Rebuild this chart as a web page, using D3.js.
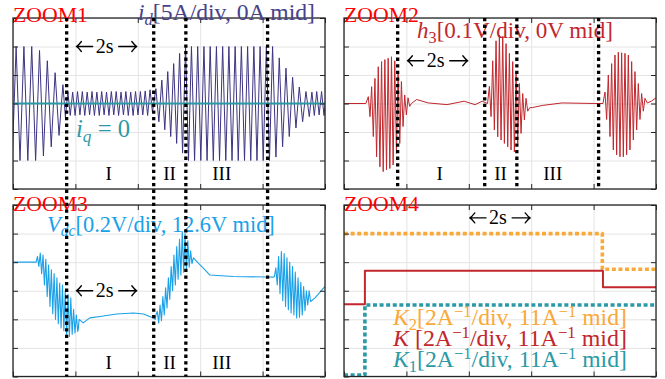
<!DOCTYPE html>
<html>
<head>
<meta charset="utf-8">
<script src="https://d3js.org/d3.v7.min.js"></script>
<style>
  html, body { margin: 0; padding: 0; background: #fff; }
  svg { display: block; }
  svg text { font-family: 'Liberation Serif', 'DejaVu Serif', serif; }
</style>
</head>
<body>
<svg id="chart" width="665" height="379"></svg>
<script>
// ── data ──────────────────────────────────────────────
const tDomain = [0, 10];               // s, 2 s/div
const tGrid = [0, 2, 4, 6, 8, 10];
const dividerT = [1.72, 4.51, 5.54, 8.16];
const regionNames = ['I', 'II', 'III'];
const regionT = [3.07, 5.02, 6.69];

// ZOOM1: i_d [5A/div, 0A mid], sampled at the extrema of each stretch
const idDomain = [-15, 15];
const idSegStart = [-0.025, 1.68, 4.58, 5.72, 8.32, 9.58];
const idSegStep = [0.125, 0.0775, 0.095, 0.1, 0.107, 0.0775];
const idEarly = [-10, 10, -10, 10, -10, 10, -10, 9.3, -9.2, 7.5, -7.6, 5.4, -5.6, 3.3];
const idLow = [-2.4, 2.1, -2.1, 2.0, -2.1, 2.1, -2.0, 2.1, -2.1, 2.0, -2.0, 2.1, -2.1, 2.0, -2.1, 2.1, -2.0, 2.0,
  -2.1, 2.1, -2.0, 2.1, -2.1, 2.0, -2.0, 2.1, -2.1, 2.0, -2.1, 2.1, -2.0, 2.1, -2.0, 2.2, -2.1, 2.4, -1.5];
const idRise = [2.6, -3.2, 4.1, -4.6, 5.6, -5.8, 7.0, -7.0, 8.8, -8.7, 10, -10];
const idHigh = [10, -10, 10, -10, 10, -10, 10, -10, 10, -10, 10, -10, 10, -10, 10, -10, 10, -10, 10, -10, 10, -10, 10, -10, 10, -10];
const idFall = [10, -9.4, 8.0, -7.6, 6.2, -5.8, 4.6, -4.3, 2.9, -3.2, 2.1, -2.3];
const idTail = [2.0, -2.1, 2.1, -2.0, 2.1, -2.1, 2.0];
const iqT = [0, 10];
const iqV = [0, 0];

// ZOOM2: h3 [0.1V/div, 0V mid]
const h3Domain = [-0.3, 0.3];
const h3QuietT = [0, 0.7, 2.16, 2.33, 2.7, 3.3, 3.85, 4.2, 4.43, 4.6, 5.95, 6.05, 6.35, 6.99, 8.04, 8.3, 9.72, 9.85, 10];
const h3QuietV = [0, 0, 0, 0.014, 0.002, -0.004, 0.008, -0.004, 0.008, 0, -0.015, -0.014, -0.007, 0.002, 0, 0, 0.002, 0.008, 0.02];
const h3BurstStart = [0.78, 4.66, 8.365];
const h3BurstStep = [0.053, 0.0534, 0.0534];
const h3Burst1 = [0.024, -0.046, 0.059, -0.116, 0.088, -0.187, 0.129, -0.222, 0.147, -0.239, 0.154, -0.233, 0.159,
  -0.228, 0.164, -0.216, 0.15, -0.175, 0.112, -0.14, 0.077, -0.081, 0.03, -0.04, 0.02, -0.01];
const h3Burst2 = [0.06, -0.046, 0.15, -0.093, 0.22, -0.117, 0.24, -0.128, 0.235, -0.14, 0.21, -0.152, 0.176, -0.163,
  0.147, -0.17, 0.112, -0.14, 0.07, -0.105, 0.035, -0.058, 0.018, -0.027];
const h3Burst3 = [0.04, -0.056, 0.1, -0.116, 0.14, -0.163, 0.17, -0.18, 0.18, -0.187, 0.178, -0.187, 0.176, -0.18,
  0.17, -0.163, 0.147, -0.128, 0.112, -0.093, 0.07, -0.056, 0.035, -0.027, 0.018];

// ZOOM3: Vdc [0.2V/div, 12.6V mid]
const vdcDomain = [12.0, 13.2];
const vdcQuietT = [0, 0.7, 2.09, 2.25, 2.46, 2.79, 3.32, 3.86, 4.18, 4.5, 4.56, 5.94, 6.1, 6.31, 7.06, 8.13, 8.35, 9.68, 10];
const vdcQuietV = [12.8, 12.8, 12.328, 12.375, 12.41, 12.42, 12.437, 12.444, 12.437, 12.41, 12.4,
  12.793, 12.758, 12.71, 12.7, 12.696, 12.695, 12.55, 12.63];
const vdcBurstStart = [0.74, 4.58, 8.38];
const vdcBurstStep = [0.0445, 0.0445, 0.0445];
const vdcBurst1 = [12.8, 12.84, 12.77, 12.863, 12.72, 12.85, 12.64, 12.82, 12.56, 12.78, 12.49, 12.746, 12.44,
  12.72, 12.4, 12.69, 12.37, 12.654, 12.34, 12.64, 12.32, 12.6, 12.29, 12.575, 12.28, 12.55, 12.295, 12.47,
  12.305, 12.43, 12.316, 12.4];
const vdcBurst2 = [12.43, 12.456, 12.375, 12.5, 12.39, 12.56, 12.43, 12.62, 12.48, 12.69, 12.54, 12.77, 12.6,
  12.85, 12.64, 12.91, 12.68, 12.96, 12.71, 13.014, 12.73, 13.0, 12.746, 12.95, 12.765, 12.88, 12.79, 12.83];
const vdcBurst3 = [12.7, 12.76, 12.64, 12.84, 12.58, 12.874, 12.53, 12.86, 12.49, 12.83, 12.467, 12.8, 12.444,
  12.77, 12.43, 12.73, 12.41, 12.69, 12.415, 12.66, 12.43, 12.63, 12.46, 12.6, 12.5, 12.6, 12.525];

// ZOOM4: K, K1, K2 [2A^-1/div, 11A^-1 mid]
const kDomain = [5, 17];
const kT = [0, 0.67, 8.3, 10];
const kV = [10.05, 12.4, 11.25, 11.25];
const k1T = [0, 0.67, 10];
const k1V = [5.1, 10, 10];
const k2T = [0, 8.28, 10];
const k2V = [15, 12.5, 12.5];

// ── drawing ───────────────────────────────────────────
const C = {
  purple: '#3d3482', teal: '#2b9aa6', red: '#c1272d', blue: '#1ba1e8',
  orange: '#f9a93a', grid: '#e4e4e4', box: '#262626', zoom: '#ff0000'
};
const svg = d3.select('#chart');
const layerPanels = svg.append('g');
const layerText = svg.append('g');
const layerDiv = svg.append('g');

const seg = (t0, dt, vals) => vals.map((v, i) => [t0 + i * dt, v]);
const zip = (ts, vs) => ts.map((t, i) => [t, vs[i]]);

let clipN = 0;
function makePanel(x0, y0, w, h, domain, yStep) {
  const x = d3.scaleLinear().domain(tDomain).range([x0, x0 + w]);
  const y = d3.scaleLinear().domain(domain).range([y0 + h, y0]);
  const yTicks = d3.range(domain[0], domain[1] + yStep / 2, yStep);
  const g = layerPanels.append('g');

  // grid
  g.append('g').attr('transform', `translate(0,${y0 + h})`)
    .call(d3.axisBottom(x).tickValues(tGrid).tickSize(-h).tickFormat(''))
    .call(s => s.select('.domain').remove())
    .call(s => s.selectAll('line').attr('stroke', C.grid));
  g.append('g').attr('transform', `translate(${x0},0)`)
    .call(d3.axisLeft(y).tickValues(yTicks).tickSize(-w).tickFormat(''))
    .call(s => s.select('.domain').remove())
    .call(s => s.selectAll('line').attr('stroke', C.grid));

  const id = 'clip' + (++clipN);
  svg.append('clipPath').attr('id', id).append('rect')
    .attr('x', x0).attr('y', y0).attr('width', w).attr('height', h);
  const plot = g.append('g').attr('clip-path', `url(#${id})`);
  return { g, plot, x, y, x0, y0, w, h, yTicks };
}

function finishPanel(p) {
  const tk = 5;
  const axes = [
    [d3.axisLeft(p.y).tickValues(p.yTicks), `translate(${p.x0},0)`],
    [d3.axisRight(p.y).tickValues(p.yTicks), `translate(${p.x0 + p.w},0)`],
    [d3.axisTop(p.x).tickValues(tGrid), `translate(0,${p.y0})`],
    [d3.axisBottom(p.x).tickValues(tGrid), `translate(0,${p.y0 + p.h})`],
  ];
  for (const [ax, tr] of axes) {
    p.g.append('g').attr('transform', tr)
      .call(ax.tickSize(-tk).tickFormat(''))
      .call(s => s.select('.domain').remove())
      .call(s => s.selectAll('line').attr('stroke', C.box).attr('stroke-width', 1));
  }
  p.g.append('rect')
    .attr('x', p.x0).attr('y', p.y0).attr('width', p.w).attr('height', p.h)
    .attr('fill', 'none').attr('stroke', C.box).attr('stroke-width', 1.3);
}

function drawLine(p, pts, color, width, dash, curve) {
  const line = d3.line().x(d => p.x(d[0])).y(d => p.y(d[1]));
  if (curve) line.curve(curve);
  return p.plot.append('path').datum(pts)
    .attr('d', line)
    .attr('fill', 'none')
    .attr('stroke', color)
    .attr('stroke-width', width)
    .attr('stroke-dasharray', dash || null)
    .attr('stroke-linejoin', 'round');
}

// rich text: parts = [{t, i, sub, sup}], optionally fitted to a width
function label(parts, x, y, color, size, width, anchor) {
  const t = layerText.append('text')
    .attr('x', x).attr('y', y)
    .attr('fill', color)
    .style('font-family', "'Liberation Serif', 'DejaVu Serif', serif")
    .attr('font-size', size)
    .attr('text-anchor', anchor || 'start');
  let cur = 0;
  for (const p of parts) {
    const scale = (p.sub || p.sup) ? 0.7 : 1;
    const target = p.sub ? 0.2 : p.sup ? -0.34 : 0;
    const s = t.append('tspan').text(p.t);
    if (scale !== 1) s.attr('font-size', '0.7em');
    if (target !== cur) s.attr('dy', ((target - cur) / scale).toFixed(3) + 'em');
    if (p.i) s.attr('font-style', 'italic');
    cur = target;
  }
  if (width) {
    const w0 = t.node().getComputedTextLength();
    if (w0 > 0) t.attr('font-size', size * width / w0);
  }
  return t;
}

// "←2s→" spanning one division, arrows drawn as paths
function arrow2s(p, tA, tB, yc) {
  const xa = p.x(tA), xb = p.x(tB), xm = (xa + xb) / 2;
  const txt = label([{ t: '2s' }], xm - 2, yc + 6.5, '#000', 20, null, 'middle');
  const bb = txt.node().getBBox();
  const g = layerText.append('g').attr('fill', 'none').attr('stroke', '#000')
    .attr('stroke-width', 1.3).attr('stroke-linecap', 'round').attr('stroke-linejoin', 'round');
  g.append('path').attr('d', `M${bb.x - 3},${yc} L${xa + 1},${yc} M${xa + 6},${yc - 5} Q${xa + 3},${yc - 1} ${xa + 1},${yc} Q${xa + 3},${yc + 1} ${xa + 6},${yc + 5}`);
  g.append('path').attr('d', `M${bb.x + bb.width + 5},${yc} L${xb - 1},${yc} M${xb - 6},${yc - 5} Q${xb - 3},${yc - 1} ${xb - 1},${yc} Q${xb - 3},${yc + 1} ${xb - 6},${yc + 5}`);
}

function regions(p, baseY) {
  regionNames.forEach((n, i) => label([{ t: n }], p.x(regionT[i]), baseY, '#000', 19, null, 'middle'));
}

function dividers(p, yTop, yBot) {
  dividerT.forEach(t => {
    layerDiv.append('line')
      .attr('x1', p.x(t)).attr('x2', p.x(t))
      .attr('y1', yTop).attr('y2', yBot)
      .attr('stroke', '#000').attr('stroke-width', 3.3)
      .attr('stroke-dasharray', '3.3,3.3');
  });
}

// ZOOM1
const p1 = makePanel(13, 18, 312, 171, idDomain, 5);
const idSegs = [idEarly, idLow, idRise, idHigh, idFall, idTail];
const idPts = idSegs.flatMap((vals, i) => seg(idSegStart[i], idSegStep[i], vals));
drawLine(p1, idPts, C.purple, 1);
drawLine(p1, zip(iqT, iqV), C.teal, 2);
finishPanel(p1);

// ZOOM2
const p2 = makePanel(344, 18, 312, 171, h3Domain, 0.1);
const h3Pts = zip(h3QuietT, h3QuietV)
  .concat([h3Burst1, h3Burst2, h3Burst3].flatMap((vals, i) => seg(h3BurstStart[i], h3BurstStep[i], vals)))
  .sort((a, b) => a[0] - b[0]);
drawLine(p2, h3Pts, C.red, 1);
finishPanel(p2);

// ZOOM3
const p3 = makePanel(13, 205, 312, 171.5, vdcDomain, 0.2);
const vdcPts = zip(vdcQuietT, vdcQuietV)
  .concat([vdcBurst1, vdcBurst2, vdcBurst3].flatMap((vals, i) => seg(vdcBurstStart[i], vdcBurstStep[i], vals)))
  .sort((a, b) => a[0] - b[0]);
drawLine(p3, vdcPts, C.blue, 1.1);
finishPanel(p3);

// ZOOM4
const p4 = makePanel(344, 205, 312, 171.5, kDomain, 2);
drawLine(p4, zip(k2T, k2V), C.orange, 3.6, '4,2.6', d3.curveStepAfter);
drawLine(p4, zip(kT, kV), C.red, 2, null, d3.curveStepAfter);
drawLine(p4, zip(k1T, k1V), C.teal, 3.6, '4,2.6', d3.curveStepAfter);
finishPanel(p4);

// titles
label([{ t: 'ZOOM1' }], 13, 22, C.zoom, 21, 75);
label([{ t: 'ZOOM2' }], 344, 22, C.zoom, 21, 75);
label([{ t: 'ZOOM3' }], 13, 211, C.zoom, 21, 75);
label([{ t: 'ZOOM4' }], 344, 211, C.zoom, 21, 75);

// signal labels
label([{ t: 'i', i: 1 }, { t: 'd', i: 1, sub: 1 }, { t: '[5A/div, 0A mid]' }], 138, 20, '#48428c', 20, 177);
label([{ t: 'i', i: 1 }, { t: 'q', i: 1, sub: 1 }, { t: ' = 0' }], 76, 137, C.teal, 20, 54);
label([{ t: 'h', i: 1 }, { t: '3', sub: 1 }, { t: '[0.1V/div, 0V mid]' }], 417, 38, C.red, 20, 196);
label([{ t: 'V', i: 1 }, { t: 'dc', i: 1, sub: 1 }, { t: '[0.2V/div, 12.6V mid]' }], 47, 232, C.blue, 20, 228);
const kUnit = [{ t: '[2A' }, { t: '−1', sup: 1 }, { t: '/div, 11A' }, { t: '−1', sup: 1 }, { t: ' mid]' }];
label([{ t: 'K', i: 1 }, { t: '2', sub: 1 }].concat(kUnit), 393, 325, C.orange, 20, 234);
label([{ t: 'K ', i: 1 }].concat(kUnit), 393, 346, C.red, 20, 234);
label([{ t: 'K', i: 1 }, { t: '1', sub: 1 }].concat(kUnit), 393, 367, C.teal, 20, 234);

// 2 s markers
arrow2s(p1, 2, 4, p1.y(10));
arrow2s(p2, 2, 4, p2.y(0.15));
arrow2s(p3, 2, 4, p3.y(12.6));
arrow2s(p4, 4, 6, p4.y(16.1));

// regions
regions(p1, 180);
regions(p2, 180);
regions(p3, 369);

// dotted dividers (left column runs through both rows)
dividers(p1, 18, 376.5);
dividers(p2, 18, 189);
</script>
</body>
</html>
